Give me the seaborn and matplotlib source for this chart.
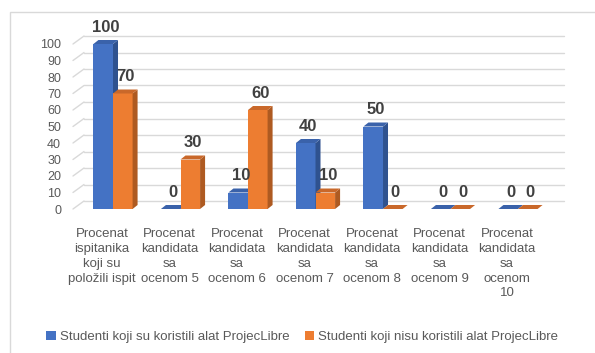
import matplotlib
matplotlib.use("Agg")
import matplotlib.pyplot as plt
from matplotlib.patches import Polygon, Rectangle
from matplotlib.transforms import ScaledTranslation
from matplotlib.lines import Line2D
import seaborn as sns
import pandas as pd

categories = [
    "Procenat\nispitanika\nkoji su\npoložili ispit",
    "Procenat\nkandidata\nsa\nocenom 5",
    "Procenat\nkandidata\nsa\nocenom 6",
    "Procenat\nkandidata\nsa\nocenom 7",
    "Procenat\nkandidata\nsa\nocenom 8",
    "Procenat\nkandidata\nsa\nocenom 9",
    "Procenat\nkandidata\nsa\nocenom\n10",
]
series_names = ["Studenti koji su koristili alat ProjecLibre",
                "Studenti koji nisu koristili alat ProjecLibre"]
used_tool = [100, 0, 10, 40, 50, 0, 0]
not_used_tool = [70, 30, 60, 10, 0, 0, 0]
y_ticks = [0, 10, 20, 30, 40, 50, 60, 70, 80, 90, 100]

front_colors = ["#4472C4", "#ED7D31"]
side_colors = ["#2F528F", "#AE5A21"]
top_colors = ["#3A62AA", "#C9682A"]

df = pd.DataFrame({
    "cat": categories * 2,
    "val": used_tool + not_used_tool,
    "series": [series_names[0]] * 7 + [series_names[1]] * 7,
})

sns.set_theme(style="white")
plt.rcParams["font.family"] = ["Liberation Sans", "DejaVu Sans"]

W, H = 595, 353
fig = plt.figure(figsize=(W / 100, H / 100), dpi=100)
ax_left, ax_right, ax_top, ax_bottom = 75, 555, 44, 209
ax = fig.add_axes([ax_left / W, (H - ax_bottom) / H,
                   (ax_right - ax_left) / W, (ax_bottom - ax_top) / H])

# outer chart border
fig.patches.append(Rectangle((10 / W, -0.2), 1.2, (H - 12) / H + 0.2,
                             transform=fig.transFigure, fill=False,
                             edgecolor="#D9D9D9", linewidth=1.0))

sns.barplot(data=df, x="cat", y="val", hue="series", order=categories,
            hue_order=series_names, palette=front_colors, width=0.58,
            saturation=1, ax=ax, legend=True, edgecolor="none")

xmin, xmax = -0.563, 6.548
ax.set_xlim(xmin, xmax)
ax.set_ylim(0, 100)
kx = (xmax - xmin) / (ax_right - ax_left)
ky = 100 / (ax_bottom - ax_top)

# 3D-like depth on bars
ddx, ddy = 5 * kx, 4 * ky
for i, (cont, vals) in enumerate(zip(ax.containers, [used_tool, not_used_tool])):
    for p, v in zip(cont.patches, vals):
        x0, w, h = p.get_x(), p.get_width(), p.get_height()
        p.set_zorder(3 + 2 * i)
        side = Polygon([(x0 + w, 0), (x0 + w + ddx, ddy), (x0 + w + ddx, h + ddy), (x0 + w, h)],
                       closed=True, facecolor=side_colors[i], edgecolor="none",
                       zorder=3.5 + 2 * i, clip_on=False)
        top = Polygon([(x0, h), (x0 + w, h), (x0 + w + ddx, h + ddy), (x0 + ddx, h + ddy)],
                      closed=True, facecolor=top_colors[i], edgecolor="none",
                      zorder=3.6 + 2 * i, clip_on=False)
        ax.add_patch(side)
        ax.add_patch(top)
        ax.annotate(f"{v}", (x0 + w / 2, h), xytext=(1.8, 6.5), textcoords="offset points",
                    ha="center", va="bottom", fontsize=12, fontweight="bold",
                    color="#404040", zorder=10, annotation_clip=False)

# back-wall gridlines and left diagonals
gdx, gdy = 9, 8
off = ScaledTranslation(gdx / 100, gdy / 100, fig.dpi_scale_trans)
for v in y_ticks:
    ax.add_line(Line2D([xmin, xmax], [v, v], color="#D9D9D9", linewidth=1.0,
                       transform=ax.transData + off, zorder=1, clip_on=False))
    ax.add_line(Line2D([xmin - 2 * kx, xmin + gdx * kx], [v, v + gdy * ky],
                       color="#D9D9D9", linewidth=1.0, zorder=1, clip_on=False))

ax.set_yticks(y_ticks)
ax.tick_params(axis="y", length=0, pad=10, labelsize=9, labelcolor="#595959")
ax.tick_params(axis="x", length=0, pad=14, labelsize=9.5, labelcolor="#595959")
for lab in ax.get_xticklabels():
    lab.set_linespacing(1.3)
    lab.set_transform(lab.get_transform() + ScaledTranslation(-11 / 100, 0, fig.dpi_scale_trans))
ax.set_xlabel("")
ax.set_ylabel("")
ax.grid(False)
for s in ax.spines.values():
    s.set_visible(False)
ax.patch.set_alpha(0)

leg = ax.get_legend()
handles = leg.legend_handles
leg.remove()
fig.legend(handles, series_names, loc="center", bbox_to_anchor=(0.508, 16 / H),
           ncol=2, frameon=False, fontsize=9.5, labelcolor="#595959",
           handlelength=0.7, handleheight=0.7, handletextpad=0.3, columnspacing=1.2)

fig.savefig("out.png", dpi=100)
